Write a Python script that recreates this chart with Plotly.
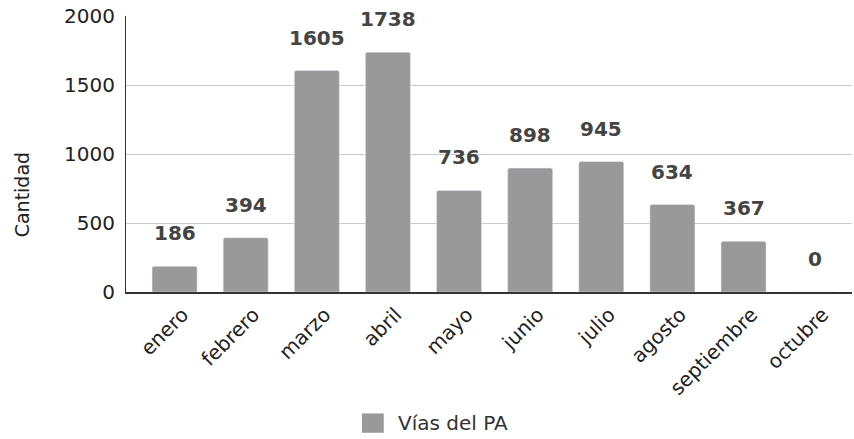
import plotly.graph_objects as go

meses = ["enero", "febrero", "marzo", "abril", "mayo", "junio",
         "julio", "agosto", "septiembre", "octubre"]
cantidad = [186, 394, 1605, 1738, 736, 898, 945, 634, 367, 0]
serie = "Vías del PA"

fig = go.Figure(go.Bar(
    x=meses, y=cantidad, name=serie,
    marker=dict(color="#999999", cornerradius=2),
    showlegend=False,
))

# etiquetas de valor por encima de cada barra
for m, v in zip(meses, cantidad):
    fig.add_annotation(
        x=m, y=v, text="<b>%d</b>" % v, showarrow=False,
        yshift=33,
        font=dict(family="DejaVu Sans", size=20, color="#444444"),
    )

# titulo del eje y
fig.add_annotation(
    xref="paper", yref="paper", x=-0.143, y=0.351, text="Cantidad",
    textangle=-90, showarrow=False, xanchor="center", yanchor="middle",
    font=dict(family="DejaVu Sans", size=19, color="#222222"),
)

# leyenda dibujada a mano (cuadro + texto)
fig.add_shape(type="rect", xref="paper", yref="paper",
              x0=0.325, x1=0.355, y0=-0.44, y1=-0.51,
              fillcolor="#999999", line_width=0)
fig.add_annotation(
    xref="paper", yref="paper", x=0.372, y=-0.475, text=serie,
    showarrow=False, xanchor="left", yanchor="middle",
    font=dict(family="DejaVu Sans", size=20, color="#333333"),
)

fig.update_layout(
    width=854, height=439,
    margin=dict(l=126, r=2, t=16, b=147),
    paper_bgcolor="white", plot_bgcolor="white",
    bargap=0.367,
    font=dict(family="DejaVu Sans", size=19, color="#222222"),
    xaxis=dict(range=[-0.683, 9.525], tickangle=-45, showline=True,
               linecolor="#333333", linewidth=2, ticks="",
               tickfont=dict(size=20), automargin=False,
               ticklabelshift=8, ticklabelstandoff=1),
    yaxis=dict(range=[0, 2000], dtick=500, showgrid=True,
               gridcolor="#cccccc", showline=True, linecolor="#333333",
               linewidth=1, zeroline=False, ticks="", automargin=False,
               tickfont=dict(size=20), ticklabelstandoff=6,
               ticklabeloverflow="allow"),
)

# quitar el margen por defecto del body para que la figura empiece en 0,0
fig.write_html("out.html", config={"displayModeBar": False},
               post_script="document.body.style.margin='0';")
